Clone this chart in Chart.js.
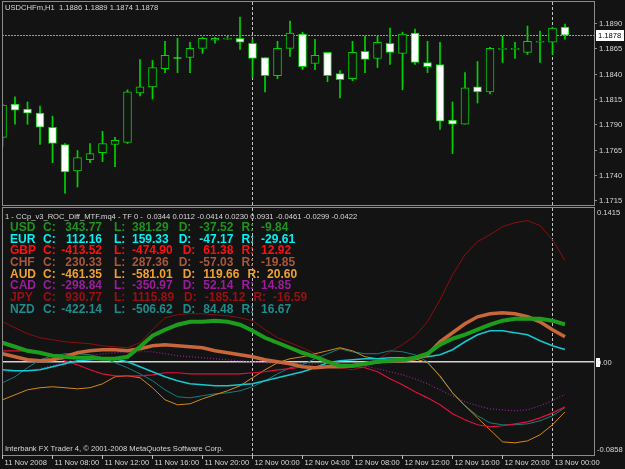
<!DOCTYPE html>
<html><head><meta charset="utf-8">
<script src="https://cdn.jsdelivr.net/npm/chart.js@4.4.1/dist/chart.umd.min.js"></script>
<style>
html,body{margin:0;padding:0;background:#131313;width:625px;height:469px;overflow:hidden}
#c1{position:absolute;left:0;top:0}
#c2{position:absolute;left:0;top:207px}
</style></head><body>
<canvas id="c1" width="625" height="207"></canvas>
<canvas id="c2" width="625" height="262"></canvas>
<script>
// ---------- DATA ----------
const symbolTitle = 'USDCHFm,H1';
const openP  = [1.1777,1.1810,1.1805,1.1801,1.1787,1.1770,1.1744,1.1755,1.1762,1.1770,1.1772,1.1821,1.1827,1.1845,1.1856,1.1856,1.1865,1.1873,1.1874,1.1875,1.1870,1.1856,1.1838,1.1865,1.1879,1.1850,1.1861,1.1840,1.1835,1.1862,1.1855,1.1870,1.1860,1.1880,1.1851,1.1849,1.1794,1.1790,1.1827,1.1822,1.1864,1.1864,1.1861,1.1871,1.1871,1.1886];
const highP  = [1.1810,1.1817,1.1812,1.1808,1.1798,1.1771,1.1764,1.1771,1.1783,1.1777,1.1824,1.1854,1.1853,1.1872,1.1875,1.1871,1.1876,1.1876,1.1877,1.1896,1.1874,1.1856,1.1872,1.1892,1.1881,1.1874,1.1861,1.1843,1.1872,1.1877,1.1877,1.1885,1.1881,1.1884,1.1872,1.1871,1.1812,1.1841,1.1852,1.1866,1.1877,1.1871,1.1887,1.1882,1.1886,1.1889];
const lowP   = [1.1768,1.1790,1.1790,1.1770,1.1752,1.1722,1.1728,1.1752,1.1753,1.1748,1.1771,1.1818,1.1815,1.1841,1.1841,1.1841,1.1860,1.1870,1.1874,1.1864,1.1836,1.1822,1.1835,1.1857,1.1844,1.1844,1.1832,1.1816,1.1833,1.1841,1.1846,1.1849,1.1824,1.1849,1.1841,1.1785,1.1761,1.1790,1.1811,1.1820,1.1851,1.1855,1.1859,1.1851,1.1859,1.1874];
const closeP = [1.1809,1.1804,1.1801,1.1787,1.1771,1.1743,1.1757,1.1761,1.1771,1.1774,1.1822,1.1827,1.1846,1.1858,1.1855,1.1865,1.1875,1.1875,1.1875,1.1871,1.1855,1.1838,1.1865,1.1880,1.1847,1.1858,1.1838,1.1834,1.1861,1.1854,1.1871,1.1861,1.1879,1.1851,1.1847,1.1793,1.1790,1.1826,1.1822,1.1865,1.1864,1.1864,1.1872,1.1871,1.1885,1.1878];
const priceTicks = [1.1890,1.1865,1.1840,1.1815,1.1790,1.1765,1.1740,1.1715];

const timeLabels = ['11 Nov 2008','11 Nov 08:00','11 Nov 12:00','11 Nov 16:00','11 Nov 20:00','12 Nov 00:00','12 Nov 04:00','12 Nov 08:00','12 Nov 12:00','12 Nov 16:00','12 Nov 20:00','13 Nov 00:00'];
const timeTickIdx = [0,4,8,12,16,20,24,28,32,36,40,44];
const dayStarts = [20,44];

const usd = [0.0175,0.0138,0.0101,0.0083,0.0055,0.0046,0.0037,0.0037,0.0028,0.0028,0.0046,0.0138,0.0239,0.0295,0.0341,0.0368,0.0368,0.0378,0.0368,0.0341,0.0286,0.0221,0.0175,0.0129,0.0083,0.0046,0.0000,-0.0037,-0.0037,-0.0018,0.0000,0.0009,0.0018,0.0037,0.0074,0.0157,0.0212,0.0249,0.0295,0.0341,0.0378,0.0396,0.0396,0.0396,0.0378,0.0344];
const eur = [-0.0074,-0.0083,-0.0083,-0.0074,-0.0046,-0.0018,0.0009,0.0018,0.0028,0.0028,0.0000,-0.0046,-0.0092,-0.0138,-0.0175,-0.0203,-0.0212,-0.0221,-0.0221,-0.0212,-0.0203,-0.0175,-0.0147,-0.0120,-0.0092,-0.0055,-0.0009,0.0009,0.0018,0.0028,0.0028,0.0037,0.0037,0.0037,0.0046,0.0064,0.0111,0.0184,0.0249,0.0286,0.0286,0.0267,0.0249,0.0193,0.0147,0.0112];
const gbp = [0.0101,0.0101,0.0101,0.0092,0.0055,0.0009,-0.0028,-0.0074,-0.0111,-0.0129,-0.0129,-0.0129,-0.0120,-0.0101,-0.0101,-0.0111,-0.0111,-0.0111,-0.0111,-0.0111,-0.0101,-0.0092,-0.0074,-0.0064,-0.0046,-0.0046,-0.0037,-0.0037,-0.0046,-0.0055,-0.0092,-0.0157,-0.0212,-0.0276,-0.0332,-0.0396,-0.0479,-0.0534,-0.0580,-0.0599,-0.0589,-0.0571,-0.0553,-0.0516,-0.0470,-0.0414];
const chf = [0.0074,0.0046,0.0018,0.0009,0.0018,0.0046,0.0083,0.0101,0.0111,0.0111,0.0101,0.0120,0.0147,0.0157,0.0147,0.0138,0.0129,0.0101,0.0083,0.0064,0.0046,0.0018,0.0000,-0.0018,-0.0046,-0.0055,-0.0046,-0.0046,-0.0037,-0.0018,0.0000,0.0009,0.0009,0.0028,0.0064,0.0184,0.0267,0.0350,0.0414,0.0442,0.0451,0.0442,0.0414,0.0368,0.0295,0.0230];
const jpy = [0.0368,0.0313,0.0258,0.0221,0.0203,0.0184,0.0175,0.0166,0.0147,0.0138,0.0129,0.0175,0.0295,0.0405,0.0433,0.0442,0.0442,0.0433,0.0424,0.0405,0.0378,0.0295,0.0221,0.0175,0.0129,0.0074,0.0018,-0.0055,-0.0074,-0.0046,0.0018,0.0092,0.0157,0.0239,0.0368,0.0571,0.0801,0.0985,0.1105,0.1170,0.1243,0.1280,0.1299,0.1253,0.1124,0.0931];
const aud = [-0.0350,-0.0304,-0.0258,-0.0239,-0.0230,-0.0239,-0.0249,-0.0239,-0.0203,-0.0138,-0.0129,-0.0147,-0.0239,-0.0350,-0.0396,-0.0387,-0.0341,-0.0304,-0.0267,-0.0221,-0.0147,-0.0074,-0.0009,0.0028,0.0046,0.0074,0.0101,0.0129,0.0101,0.0046,0.0028,0.0018,0.0028,0.0028,-0.0009,-0.0129,-0.0286,-0.0405,-0.0516,-0.0626,-0.0737,-0.0746,-0.0728,-0.0672,-0.0580,-0.0461];
const cad = [-0.0092,-0.0092,-0.0083,-0.0064,-0.0037,0.0000,0.0028,0.0055,0.0074,0.0083,0.0092,0.0092,0.0092,0.0074,0.0055,0.0046,0.0037,0.0028,0.0018,0.0009,0.0000,-0.0009,-0.0018,-0.0018,-0.0018,-0.0018,-0.0018,-0.0018,-0.0028,-0.0037,-0.0064,-0.0092,-0.0120,-0.0157,-0.0203,-0.0258,-0.0313,-0.0368,-0.0405,-0.0433,-0.0442,-0.0451,-0.0442,-0.0405,-0.0359,-0.0299];
const nzd = [-0.0193,-0.0138,-0.0055,0.0018,0.0055,0.0074,0.0074,0.0064,0.0037,-0.0009,-0.0055,-0.0111,-0.0175,-0.0258,-0.0322,-0.0332,-0.0313,-0.0295,-0.0286,-0.0267,-0.0230,-0.0175,-0.0111,-0.0055,-0.0028,0.0028,0.0074,0.0120,0.0092,0.0074,0.0074,0.0101,0.0092,0.0064,0.0000,-0.0138,-0.0286,-0.0405,-0.0497,-0.0562,-0.0580,-0.0580,-0.0571,-0.0543,-0.0497,-0.0422];
const indMax = 0.1415, indMin = -0.0858;

const currencyNames = ['USD','EUR','GBP','CHF','AUD','CAD','JPY','NZD'];
const cVals = [343.77,112.16,-413.52,230.33,-461.35,-298.84,930.77,-422.14];
const lVals = [381.29,159.33,-474.90,287.36,-581.01,-350.97,1115.89,-506.62];
const dVals = [-37.52,-47.17,61.38,-57.03,119.66,52.14,-185.12,84.48];
const rVals = [-9.84,-29.61,12.92,-19.85,20.60,14.85,-16.59,16.67];
const indicatorName = '1 - CCp_v3_ROC_Diff_MTF.mq4 - TF 0 -';
const copyright = 'Interbank FX Trader 4, \u00a9 2001-2008 MetaQuotes Software Corp.';

// ---------- STYLE ----------
const BG = '#131313';
const GREEN = '#00d400';
const FRAME = '#8c8c8c';
const TXT = '#d8d8d8';
const SMALL = '7.6px "Liberation Sans", Arial, sans-serif';
const textColors = {USD:'#1f921f',EUR:'#00f4f4',GBP:'#ff1010',CHF:'#a8583a',AUD:'#f0a030',CAD:'#9c1c9c',JPY:'#9c0f14',NZD:'#1e8c8c'};
const XMIN = -0.04, XMAX = 47.32;

Chart.defaults.font.family = '"Liberation Sans", Arial, sans-serif';

// ---------- TOP: CANDLES ----------
const topDeco = {
  id: 'topDeco',
  beforeDatasetsDraw(chart) {
    const {ctx, chartArea: a, scales: {x, y}} = chart;
    ctx.save();
    ctx.strokeStyle = '#c4c4c4'; ctx.lineWidth = 1; ctx.setLineDash([3, 2]);
    dayStarts.forEach(i => {
      const px = Math.floor(x.getPixelForValue(i)) + 0.5;
      ctx.beginPath(); ctx.moveTo(px, a.top); ctx.lineTo(px, a.bottom); ctx.stroke();
    });
    const py = Math.round(y.getPixelForValue(closeP[closeP.length - 1])) + 0.5;
    ctx.strokeStyle = '#9a9a9a'; ctx.setLineDash([2, 1]);
    ctx.beginPath(); ctx.moveTo(a.left, py); ctx.lineTo(a.right, py); ctx.stroke();
    ctx.restore();
  },
  afterDraw(chart) {
    const {ctx, chartArea: a, scales: {y}} = chart;
    ctx.save();
    ctx.strokeStyle = FRAME; ctx.lineWidth = 1; ctx.setLineDash([]);
    ctx.strokeRect(a.left + 0.5, a.top - 0.5, a.right - a.left, a.bottom - a.top + 1);
    ctx.font = SMALL; ctx.textBaseline = 'middle'; ctx.textAlign = 'left';
    priceTicks.forEach(v => {
      const py = Math.round(y.getPixelForValue(v)) + 0.5;
      ctx.strokeStyle = FRAME;
      ctx.beginPath(); ctx.moveTo(a.right, py); ctx.lineTo(a.right + 3, py); ctx.stroke();
      ctx.fillStyle = TXT; ctx.fillText(v.toFixed(4), a.right + 5, py);
    });
    const last = closeP[closeP.length - 1];
    const ly = Math.round(y.getPixelForValue(last));
    ctx.fillStyle = '#ffffff'; ctx.fillRect(a.right + 2, ly - 5, 28, 11);
    ctx.fillStyle = '#000000'; ctx.fillText(last.toFixed(4), a.right + 4, ly + 0.5);
    const n = openP.length - 1;
    ctx.fillStyle = TXT;
    ctx.fillText(symbolTitle + '  ' + [openP[n], highP[n], lowP[n], closeP[n]].map(v => v.toFixed(4)).join(' '), 5, 8);
    ctx.restore();
  }
};

new Chart(document.getElementById('c1'), {
  type: 'bar',
  data: {
    datasets: [
      {
        data: openP.map((o, i) => ({x: i, y: [o, closeP[i]]})),
        grouped: false, barThickness: 8, minBarLength: 1,
        borderWidth: 1, borderSkipped: false, borderColor: GREEN,
        backgroundColor: openP.map((o, i) => closeP[i] < o ? '#ffffff' : BG)
      },
      {
        data: lowP.map((l, i) => ({x: i, y: [l, highP[i]]})),
        grouped: false, barThickness: 1, borderWidth: 0, backgroundColor: GREEN
      }
    ]
  },
  options: {
    responsive: false, animation: false, devicePixelRatio: 1, events: [],
    layout: {padding: {left: 2, right: 31, top: 2, bottom: 2}},
    plugins: {legend: {display: false}, tooltip: {enabled: false}},
    scales: {
      x: {type: 'linear', display: false, min: XMIN, max: XMAX, offset: false, grid: {offset: false}},
      y: {type: 'linear', display: false, min: 1.17102, max: 1.19108, beginAtZero: false}
    }
  },
  plugins: [topDeco]
});

// ---------- BOTTOM: INDICATOR ----------
const series = [
  {name: 'USD', data: usd, color: '#1c9e1c', width: 4},
  {name: 'CHF', data: chf, color: '#c8673a', width: 3.5},
  {name: 'EUR', data: eur, color: '#14c8d0', width: 1.6},
  {name: 'GBP', data: gbp, color: '#e0103c', width: 1.2},
  {name: 'AUD', data: aud, color: '#d48a1a', width: 1},
  {name: 'NZD', data: nzd, color: '#167e7e', width: 1},
  {name: 'CAD', data: cad, color: '#9a1e9a', width: 1.2, dash: [1, 2]},
  {name: 'JPY', data: jpy, color: '#8c0e0e', width: 1}
];
const headerOrder = [usd, eur, gbp, chf, jpy, aud, cad, nzd];

const botDeco = {
  id: 'botDeco',
  beforeDatasetsDraw(chart) {
    const {ctx, chartArea: a, scales: {x, y}} = chart;
    ctx.save();
    ctx.strokeStyle = '#c4c4c4'; ctx.lineWidth = 1; ctx.setLineDash([3, 2]);
    dayStarts.forEach(i => {
      const px = Math.floor(x.getPixelForValue(i)) + 0.5;
      ctx.beginPath(); ctx.moveTo(px, a.top); ctx.lineTo(px, a.bottom); ctx.stroke();
    });
    ctx.setLineDash([]);
    const zy = y.getPixelForValue(0);
    ctx.strokeStyle = '#d4d4d4'; ctx.lineWidth = 1.5;
    ctx.beginPath(); ctx.moveTo(a.left, zy); ctx.lineTo(a.right, zy); ctx.stroke();
    ctx.restore();
  },
  afterDraw(chart) {
    const {ctx, chartArea: a, scales: {x, y}} = chart;
    ctx.save();
    ctx.strokeStyle = FRAME; ctx.lineWidth = 1; ctx.setLineDash([]);
    ctx.strokeRect(a.left + 0.5, a.top - 0.5, a.right - a.left, a.bottom - a.top + 1);
    ctx.font = SMALL; ctx.textBaseline = 'middle'; ctx.textAlign = 'left';
    // right axis
    ctx.fillStyle = TXT;
    ctx.fillText(indMax.toFixed(4), a.right + 3, a.top + 5);
    ctx.fillText(indMin.toFixed(4), a.right + 3, a.bottom - 5);
    const zy = Math.round(y.getPixelForValue(0));
    ctx.fillStyle = '#ffffff'; ctx.fillRect(a.right + 2, zy - 4, 4, 9);
    ctx.fillStyle = TXT; ctx.fillText((0).toFixed(2), a.right + 3, zy + 0.5);
    // header
    ctx.fillText(indicatorName + '  ' + headerOrder.map(s => s[s.length - 1].toFixed(4)).join(' '), 5, a.top + 9);
    // copyright
    ctx.fillText(copyright, 5, a.bottom - 6);
    // time axis
    timeTickIdx.forEach((i, k) => {
      const px = Math.floor(x.getPixelForValue(i)) + 0.5;
      ctx.strokeStyle = '#bdbdbd';
      ctx.beginPath(); ctx.moveTo(px, a.bottom); ctx.lineTo(px, a.bottom + 4); ctx.stroke();
      ctx.fillStyle = TXT; ctx.fillText(timeLabels[k], px + 2, a.bottom + 8);
    });
    // currency table
    ctx.font = 'bold 12px "Liberation Sans", Arial, sans-serif';
    currencyNames.forEach((nm, k) => {
      const yy = a.top + 19.5 + k * 11.7;
      ctx.fillStyle = textColors[nm];
      ctx.textAlign = 'left';
      ctx.fillText(nm, 10, yy);
      ctx.fillText('C:', 43, yy);
      ctx.textAlign = 'right';
      ctx.fillText(cVals[k].toFixed(2), 102, yy);
      ctx.textAlign = 'left';
      ctx.fillText('L:', 114, yy);
      let xx = 132;
      const lt = lVals[k].toFixed(2);
      ctx.fillText(lt, xx, yy); xx += ctx.measureText(lt).width + 10;
      ctx.fillText('D:', xx, yy); xx += ctx.measureText('D:').width + 8;
      const dt = dVals[k].toFixed(2);
      ctx.fillText(dt, xx, yy); xx += ctx.measureText(dt).width + 8;
      ctx.fillText('R:', xx, yy); xx += ctx.measureText('R:').width + 7;
      ctx.fillText(rVals[k].toFixed(2), xx, yy);
    });
    ctx.restore();
  }
};

new Chart(document.getElementById('c2'), {
  type: 'line',
  data: {
    datasets: series.map(s => ({
      label: s.name,
      data: s.data.map((v, i) => ({x: i, y: v})),
      borderColor: s.color, borderWidth: s.width, borderDash: s.dash || [],
      pointRadius: 0, tension: 0, fill: false
    }))
  },
  options: {
    responsive: false, animation: false, devicePixelRatio: 1, events: [],
    layout: {padding: {left: 2, right: 31, top: 1, bottom: 14}},
    plugins: {legend: {display: false}, tooltip: {enabled: false}},
    scales: {
      x: {type: 'linear', display: false, min: XMIN, max: XMAX},
      y: {type: 'linear', display: false, min: indMin, max: indMax}
    }
  },
  plugins: [botDeco]
});
</script>
</body></html>
